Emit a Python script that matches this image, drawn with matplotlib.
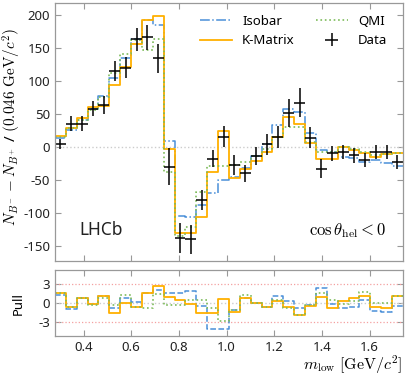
import numpy as np
import matplotlib
matplotlib.use("Agg")
import matplotlib.pyplot as plt

plt.rcParams['font.family'] = ['Noto Sans', 'DejaVu Sans']
plt.rcParams['mathtext.fontset'] = 'cm'
plt.rcParams['axes.unicode_minus'] = False

# ============================
# Datos
# ============================
edges = np.linspace(0.28, 1.74, 33)

data = [4, 35, 35, 58, 63, 115, 120, 163, 166, 134, -30, -138, -140, -81,
        -18, 15, -28, -40, -14, 4, 15, 51, 67, 14, -33, -10, -8, -13, -20,
        -8, -8, -23]
data_err = [8, 11, 11, 12, 14, 15, 16, 17, 19, 22, 28, 23, 22, 15,
            13, 16, 15, 13, 14, 16, 17, 21, 22, 16, 15, 11, 11, 11, 11,
            11, 11, 10]

isobar = [14, 26, 41, 58, 77, 105, 134, 164, 193, 184, 9, -105, -107, -88,
          -70, -50, -45, -32, -14, 4, 33, 57, 53, 21, -5, -8, -15, -17, -23,
          -20, -24, -29]
kmatrix = [16, 29, 43, 60, 62, 93, 121, 156, 193, 198, -3, -130, -130, -107,
           -38, 24, -48, -34, -22, -8, 15, 45, 35, 6, -19, -18, -1, -5, -10,
           -16, -11, -9]
qmi = [15, 28, 40, 56, 76, 112, 140, 162, 147, 164, -38, -135, -122, -69,
       -29, -29, -28, -23, -14, -3, 15, 30, 30, 8, -8, -8, 0, -3, -8,
       -13, -11, -10]

pull_isobar = [1.2, -1.0, 0.8, -0.2, 1.1, -0.8, 0.8, 0.1, 1.5, 2.1, 1.5, 1.5,
               1.8, -0.5, -4.1, -4.2, -1.2, 0.7, 0.0, -0.6, 1.1, 0.2, -0.9,
               -0.4, 2.3, -0.2, -0.8, -0.7, 0.5, -1.3, -1.4, -0.5]
pull_kmatrix = [1.5, -0.7, 0.8, -0.2, 1.1, -1.6, -0.1, -0.6, 1.5, 2.7, 0.9, 0.4,
                -0.2, -1.6, -1.6, 0.6, -1.4, 0.7, -0.1, -0.7, 0.3, -0.7, -1.9,
                -0.5, 0.9, -0.9, 0.3, 0.7, 1.1, -0.6, -0.9, 1.1]
pull_qmi = [1.5, -0.7, 0.8, -0.3, 0.8, -0.4, 1.2, -0.6, -0.9, 1.4, -0.4, -0.4,
            0.4, 0.4, -0.9, -2.9, -1.2, 1.2, -0.1, -0.6, 0.4, -0.9, -1.9,
            -0.4, 1.5, 0.4, -0.2, 0.2, 1.7, 0.0, -0.1, 1.1]

c_iso = '#4a8fd8'
c_km = '#ffb000'
c_qmi = '#7dbb5a'

centers = 0.5 * (edges[1:] + edges[:-1])
halfw = 0.5 * (edges[1] - edges[0])

def step(ax, vals, **kw):
    v = np.append(vals, vals[-1])
    return ax.step(edges, v, where='post', **kw)

# ============================
# Figura
# ============================
fig = plt.figure(figsize=(4.07, 3.76), dpi=100)
ax = fig.add_axes([0.135, 0.306, 0.855, 0.686])
axp = fig.add_axes([0.135, 0.106, 0.855, 0.176], sharex=ax)

for a in (ax, axp):
    for s in a.spines.values():
        s.set_color('#999999')
        s.set_linewidth(0.9)
    a.tick_params(direction='in', top=True, right=True, color='#999999',
                  labelsize=9.5, length=4, width=0.8, labelcolor='#222222')

ax.axhline(0, color='#cccccc', ls=':', lw=1)
l1, = step(ax, isobar, color=c_iso, ls='-.', lw=1.1, label='Isobar')
l2, = step(ax, kmatrix, color=c_km, ls='-', lw=1.3, label='K-Matrix')
l3, = step(ax, qmi, color=c_qmi, ls=':', lw=1.2, label='QMI')
eb = ax.errorbar(centers, data, yerr=data_err, xerr=halfw, fmt='none',
                 ecolor='black', elinewidth=1.1, label='Data')

ax.set_xlim(edges[0], edges[-1])
ax.set_ylim(-173, 218)
ax.set_yticks([-150, -100, -50, 0, 50, 100, 150, 200])
ax.set_ylabel(r'$N_{B^-} - N_{B^+}$ / $(0.046\ \mathrm{GeV}/c^2)$', fontsize=11)
ax.yaxis.set_label_coords(-0.092, 0.52)
ax.tick_params(labelbottom=False)

ax.legend(handles=[l1, l2, l3, eb], ncol=2, loc='upper right', frameon=False,
          fontsize=9.5, handlelength=2.4, columnspacing=1.6,
          bbox_to_anchor=(0.99, 1.0))
ax.text(0.07, 0.10, 'LHCb', transform=ax.transAxes, fontsize=12.5,
        color='#222222')
ax.text(0.95, 0.10, r'$\cos\theta_{\rm hel} < 0$', transform=ax.transAxes,
        fontsize=12, ha='right')

# Panel pull
axp.axhline(0, color='#cccccc', ls=':', lw=1)
axp.axhline(3, color='#f4a0a0', ls=':', lw=0.9)
axp.axhline(-3, color='#f4a0a0', ls=':', lw=0.9)
step(axp, pull_isobar, color=c_iso, ls='--', lw=1.1)
step(axp, pull_kmatrix, color=c_km, ls='-', lw=1.3)
step(axp, pull_qmi, color=c_qmi, ls=':', lw=1.2)
axp.set_ylim(-5.3, 5.2)
axp.set_yticks([-3, 0, 3])
axp.set_ylabel('Pull', fontsize=9.5, labelpad=10)
axp.set_xticks([0.4, 0.6, 0.8, 1.0, 1.2, 1.4, 1.6])
axp.set_xlabel(r'$m_{\rm low}\ [\mathrm{GeV}/c^2]$', fontsize=11.5, loc='right',
               labelpad=0)

fig.savefig('out.png', dpi=100)
